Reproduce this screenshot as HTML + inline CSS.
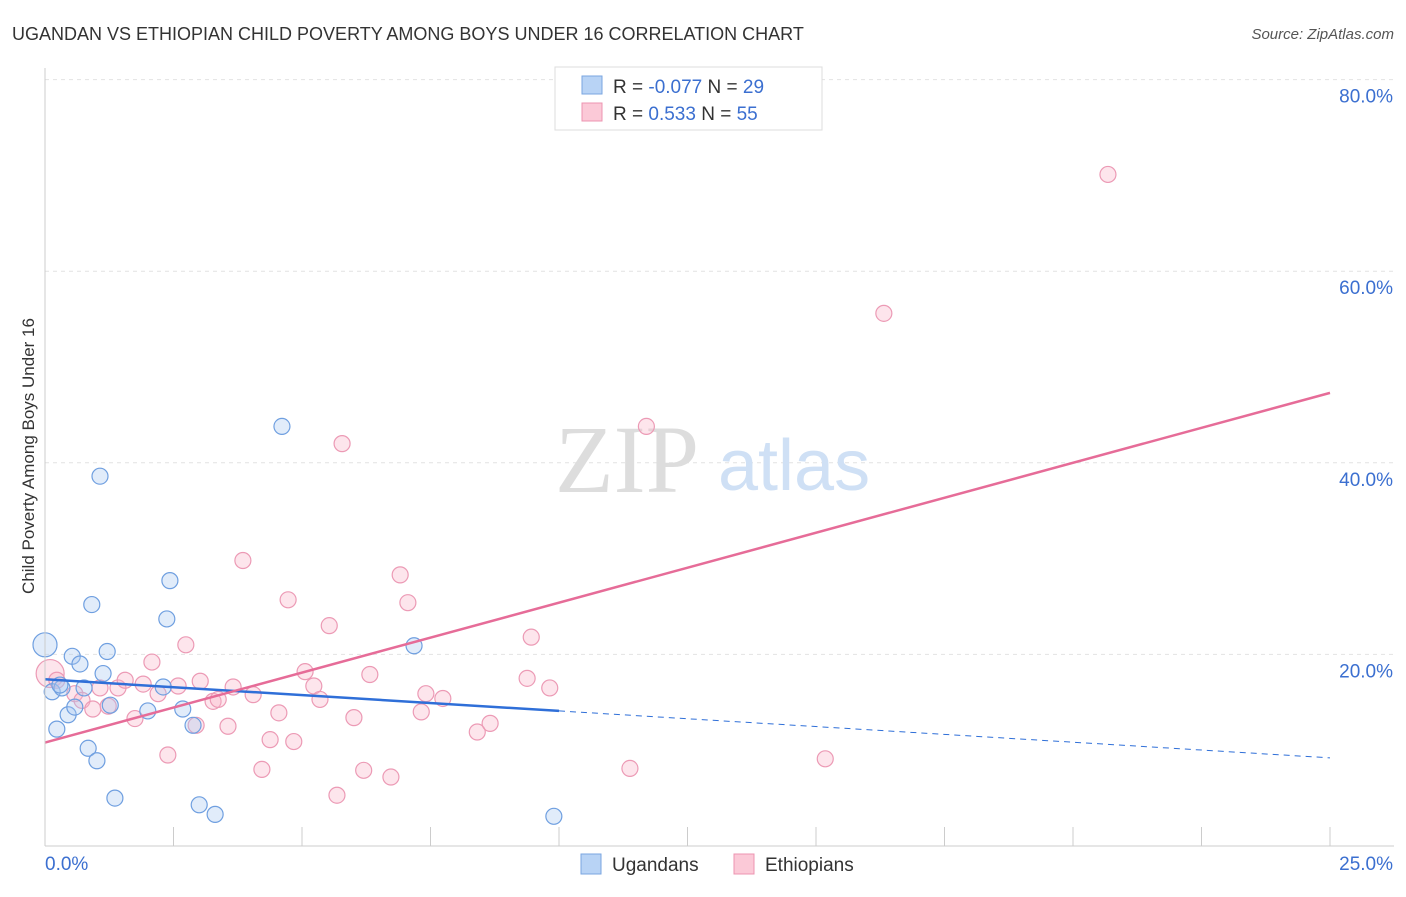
<!DOCTYPE html>
<html><head><meta charset="utf-8"><style>
body{margin:0;background:#fff;font-family:"Liberation Sans",sans-serif}
</style></head><body>
<svg width="1406" height="892" xmlns="http://www.w3.org/2000/svg" style="font-family:'Liberation Sans',sans-serif">
<text x="12" y="40" font-size="18" fill="#333">UGANDAN VS ETHIOPIAN CHILD POVERTY AMONG BOYS UNDER 16 CORRELATION CHART</text>
<text x="1394" y="39" font-size="15" fill="#555" font-style="italic" text-anchor="end">Source: ZipAtlas.com</text>
<g id="grid"></g>
<g><text x="555" y="492" font-size="96" fill="#ddd" font-family="Liberation Serif,serif">ZIP</text><text x="718" y="490" font-size="72" fill="#cfe0f5">atlas</text></g>
<g id="pts"></g>
<g id="axes"></g>
<text x="34" y="456" font-size="17" fill="#333" transform="rotate(-90 34 456)" text-anchor="middle">Child Poverty Among Boys Under 16</text>
<g>
<rect x="555" y="67" width="267" height="63" fill="#fff" stroke="#ddd"/>
<rect x="582" y="76" width="20" height="18" fill="#b8d3f5" stroke="#7aa6e0"/>
<rect x="582" y="103" width="20" height="18" fill="#fbc9d7" stroke="#ec94b0"/>
<text x="613" y="93" font-size="19" fill="#333">R = <tspan fill="#3b6fd0">-0.077</tspan>   N = <tspan fill="#3b6fd0">29</tspan></text>
<text x="613" y="120" font-size="19" fill="#333">R =   <tspan fill="#3b6fd0">0.533</tspan>   N = <tspan fill="#3b6fd0">55</tspan></text>
</g>
<g>
<rect x="581" y="854" width="20" height="20" fill="#b8d3f5" stroke="#7aa6e0"/>
<text x="612" y="871" font-size="19" fill="#333">Ugandans</text>
<rect x="734" y="854" width="20" height="20" fill="#fbc9d7" stroke="#ec94b0"/>
<text x="765" y="871" font-size="19" fill="#333">Ethiopians</text>
</g>
</svg>
<script>
const yTicks=[20,40,60,80];
const yTickLabels=["20.0%","40.0%","60.0%","80.0%"];
const xTicks=[0,2.5,5,7.5,10,12.5,15,17.5,20,22.5,25];
const ugX=[0,0.14,0.23,0.33,0.45,0.53,0.58,0.68,0.76,0.84,0.91,1.01,1.07,1.13,1.21,1.27,1.36,2.0,2.3,2.37,2.43,2.68,2.88,3.0,3.31,4.61,7.18,9.9,0.29];
const ugY=[21,16.1,12.2,16.5,13.7,19.8,14.5,19,16.5,10.2,25.2,8.9,38.6,18,20.3,14.7,5,14.1,16.6,23.7,27.7,14.3,12.6,4.3,3.3,43.8,20.9,3.1,16.8];
const etX=[0.1,0.23,0.58,0.72,0.93,1.07,1.23,1.42,1.56,1.75,1.91,2.08,2.2,2.39,2.59,2.74,2.94,3.02,3.27,3.37,3.56,3.66,3.85,4.05,4.22,4.38,4.55,4.73,4.84,5.06,5.23,5.35,5.53,5.68,5.78,6.01,6.2,6.32,6.73,6.91,7.06,7.32,7.41,7.74,8.41,8.66,9.38,9.46,9.82,11.38,11.7,15.18,16.32,20.68];
const etY=[18,17.3,15.9,15.2,14.3,16.5,14.6,16.5,17.3,13.3,16.9,19.2,15.9,9.5,16.7,21,12.6,17.2,15.1,15.3,12.5,16.6,29.8,15.8,8,11.1,13.9,25.7,10.9,18.2,16.7,15.3,23,5.3,42,13.4,7.9,17.9,7.2,28.3,25.4,14,15.9,15.4,11.9,12.8,17.5,21.8,16.5,8.1,43.8,9.1,55.6,70.1];
const ugLine=[[0,17.4],[10,14.1],[25,9.2]];
const etLine=[[0,10.8],[25,47.3]];
const NS="http://www.w3.org/2000/svg";
const X=v=>45+v*51.4, Y=v=>846-v*9.58;
function mk(t,a,p){const e=document.createElementNS(NS,t);for(const k in a)e.setAttribute(k,a[k]);document.getElementById(p).appendChild(e);return e;}
yTicks.forEach((t,i)=>{
 let l=mk('line',{x1:45,x2:1394,y1:Y(t),y2:Y(t),stroke:'#e2e2e2','stroke-dasharray':'4,4'},'grid');
 
 
 let tx=mk('text',{x:1393,y:Y(t)+23,'font-size':19,fill:'#3b6fd0','text-anchor':'end'},'axes');tx.textContent=yTickLabels[i];
 
 
});
let ax=mk('line',{x1:45,x2:45,y1:68,y2:846,stroke:'#ccc'},'axes');


let bx=mk('line',{x1:45,x2:1394,y1:846,y2:846,stroke:'#ccc'},'axes');


xTicks.forEach(t=>{let l=mk('line',{x1:X(t),x2:X(t),y1:827,y2:846,stroke:'#ccc'},'axes');
 
 });
[["0.0%",45,'start'],["25.0%",1393,'end']].forEach(d=>{let t=mk('text',{x:d[1],y:870,'font-size':19,fill:'#3b6fd0','text-anchor':d[2]},'axes');t.textContent=d[0];
 
 });
etX.forEach((x,i)=>{let c=mk('circle',{cx:X(x),cy:Y(etY[i]),r:i==0?14:8,fill:'rgba(248,180,200,0.35)',stroke:'#ec9ab5','stroke-width':1.2},'pts');
 
 });
ugX.forEach((x,i)=>{let c=mk('circle',{cx:X(x),cy:Y(ugY[i]),r:i==0?12:8,fill:'rgba(170,200,240,0.35)',stroke:'#6f9fe0','stroke-width':1.2},'pts');
 
 });
let a=mk('line',{x1:X(ugLine[0][0]),y1:Y(ugLine[0][1]),x2:X(ugLine[1][0]),y2:Y(ugLine[1][1]),stroke:'#2f6fd8','stroke-width':2.5},'pts');


let b=mk('line',{x1:X(ugLine[1][0]),y1:Y(ugLine[1][1]),x2:X(ugLine[2][0]),y2:Y(ugLine[2][1]),stroke:'#2f6fd8','stroke-width':1,'stroke-dasharray':'6,5'},'pts');


let c=mk('line',{x1:X(etLine[0][0]),y1:Y(etLine[0][1]),x2:X(etLine[1][0]),y2:Y(etLine[1][1]),stroke:'#e66c98','stroke-width':2.5},'pts');


</script>
</body></html>
